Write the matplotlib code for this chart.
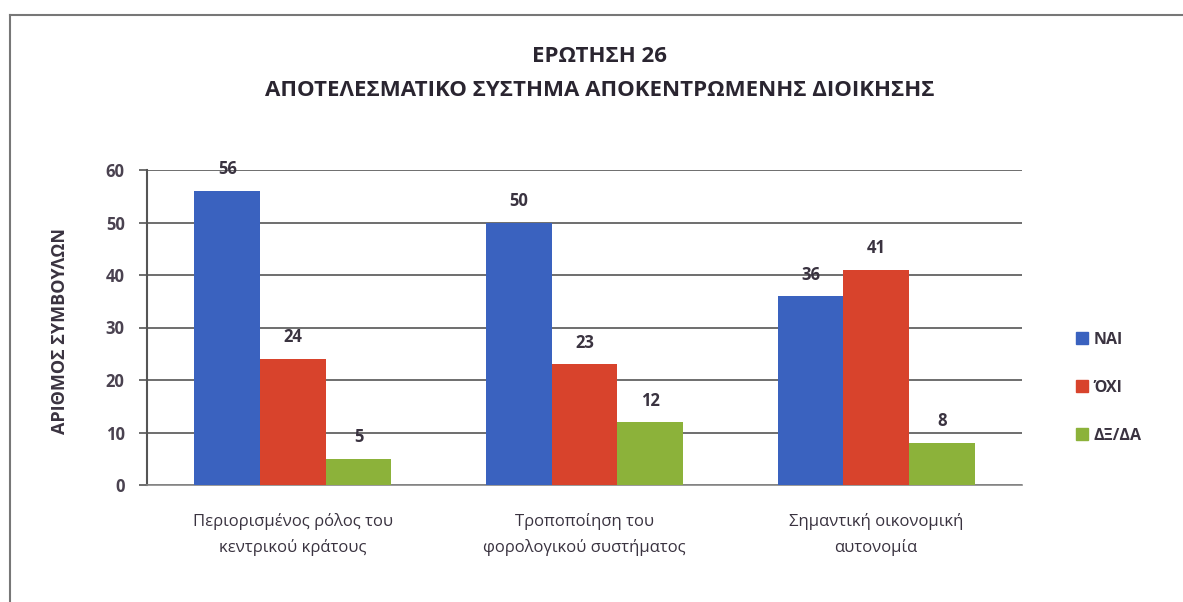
import matplotlib
matplotlib.use("Agg")
import matplotlib.pyplot as plt
import numpy as np
from matplotlib.lines import Line2D

categories = ["Περιορισμένος ρόλος του\nκεντρικού κράτους",
              "Τροποποίηση του\nφορολογικού συστήματος",
              "Σημαντική οικονομική\nαυτονομία"]
series_names = ["ΝΑΙ", "ΌΧΙ", "ΔΞ/ΔΑ"]
nai = [56, 50, 36]
oxi = [24, 23, 41]
dxda = [5, 12, 8]
yticks = [0, 10, 20, 30, 40, 50, 60]
title1 = "ΕΡΩΤΗΣΗ 26"
title2 = "ΑΠΟΤΕΛΕΣΜΑΤΙΚΟ ΣΥΣΤΗΜΑ ΑΠΟΚΕΝΤΡΩΜΕΝΗΣ ΔΙΟΙΚΗΣΗΣ"
ylabel = "ΑΡΙΘΜΟΣ ΣΥΜΒΟΥΛΩΝ"

colors = ["#3a62bf", "#d8432c", "#8cb23a"]
txt = "#3a3340"

plt.rcParams['font.family'] = ['Open Sans', 'DejaVu Sans']

fig = plt.figure(figsize=(11.83, 6.02), dpi=100)
ax = fig.add_axes([147/1183, 117/602, 875/1183, 315/602])

x = np.arange(len(categories))
w = 0.225
for i, (vals, c) in enumerate(zip([nai, oxi, dxda], colors)):
    bars = ax.bar(x + (i - 1) * w, vals, width=w, color=c, zorder=3, label=series_names[i])
    for b, v in zip(bars, vals):
        ax.annotate(str(v), (b.get_x() + b.get_width() / 2, v), xytext=(0, 9),
                    textcoords="offset points", ha="center", va="bottom",
                    fontsize=12, fontweight="bold", color=txt, annotation_clip=False)

ax.set_xlim(-0.5, 2.5)
ax.set_ylim(0, 60)
ax.set_yticks(yticks)
ax.set_yticklabels([str(t) for t in yticks], fontsize=12, fontweight="bold", color="#4a4250")
ax.yaxis.grid(True, color="#555555", linewidth=1.2, zorder=0)
ax.set_axisbelow(True)
ax.set_xticks(x)
ax.set_xticklabels(categories, fontsize=12, color=txt, linespacing=1.7)
ax.tick_params(axis="x", length=0, pad=20)
ax.tick_params(axis="y", direction="out", length=6, width=1.2, color="#555555", pad=10)
for s in ["top", "right"]:
    ax.spines[s].set_visible(False)
ax.spines["left"].set_color("#555555")
ax.spines["left"].set_linewidth(1.5)
ax.spines["bottom"].set_color("#888888")
ax.spines["bottom"].set_linewidth(1.2)

ax.set_ylabel(ylabel, fontsize=13, fontweight="bold", color=txt, labelpad=26)
ax.yaxis.set_label_coords(-78/875, 0.49)

fig.text(0.507, 1 - 57/602, title1, ha="center", va="center", fontsize=16,
         fontweight="bold", color="#2a2530")
fig.text(0.507, 1 - 90/602, title2, ha="center", va="center", fontsize=16,
         fontweight="bold", color="#2a2530")

handles = [Line2D([0], [0], marker="s", linestyle="none", markersize=9,
                  markerfacecolor=c, markeredgecolor=c) for c in colors]
leg = fig.legend(handles, series_names, loc="center left", bbox_to_anchor=(1060/1183, 1 - 388/602),
                 frameon=False, fontsize=11.5, labelspacing=2.0, handletextpad=0.2,
                 handlelength=1.0)
for t in leg.get_texts():
    t.set_color(txt)
    t.set_fontweight("bold")

# outer frame
fig.add_artist(Line2D([10/1183, 10/1183], [0, 1 - 15/602], transform=fig.transFigure,
                      color="#777777", linewidth=1.5))
fig.add_artist(Line2D([10/1183, 1], [1 - 15/602, 1 - 15/602], transform=fig.transFigure,
                      color="#777777", linewidth=1.5))

fig.savefig("out.png", dpi=100, facecolor="white")
